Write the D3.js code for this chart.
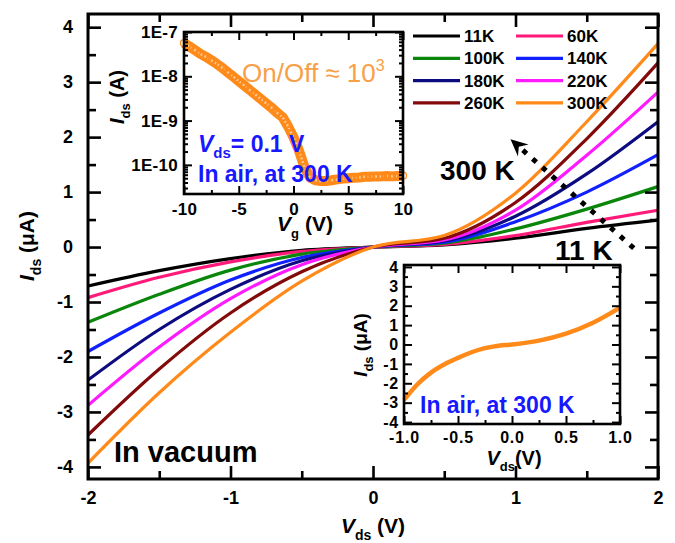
<!DOCTYPE html>
<html>
<head>
<meta charset="utf-8">
<script src="https://cdn.jsdelivr.net/npm/d3@7"></script>
<style>
  body { margin: 0; background: #fff; }
  svg { font-family: "Liberation Sans", Arial, sans-serif; font-weight: bold; }
</style>
</head>
<body>
<div id="chart"></div>
<script>
// ---- data ----
const temps = ["11K", "60K", "100K", "140K", "180K", "220K", "260K", "300K"];
const colors = ["#000000", "#ff1a7a", "#0a860a", "#1020ff", "#0c0c80", "#ff1aff", "#820a0a", "#ff8a1a"];
const vds = [-2, -1.5, -1, -0.5, 0, 0.5, 1, 1.5, 2];
const i11K  = [-0.71, -0.43, -0.21, -0.06, 0, 0.04, 0.16, 0.34, 0.49];
const i60K  = [-0.92, -0.55, -0.27, -0.08, 0, 0.05, 0.21, 0.45, 0.67];
const i100K = [-1.37, -0.86, -0.42, -0.13, 0, 0.07, 0.33, 0.69, 1.10];
const i140K = [-1.90, -1.20, -0.60, -0.19, 0, 0.09, 0.46, 1.00, 1.68];
const i180K = [-2.42, -1.50, -0.77, -0.25, 0, 0.11, 0.56, 1.33, 2.28];
const i220K = [-2.88, -1.82, -0.94, -0.32, 0, 0.13, 0.67, 1.67, 2.82];
const i260K = [-3.42, -2.22, -1.20, -0.45, 0, 0.16, 0.81, 1.97, 3.35];
const i300K = [-3.93, -2.65, -1.55, -0.62, 0, 0.21, 0.98, 2.28, 3.70];
const series = [i11K, i60K, i100K, i140K, i180K, i220K, i260K, i300K];

// inset 1: transfer curve, Vds = 0.1 V
const vg = [-10, -9.5, -9, -8.5, -8, -7.5, -7, -6.5, -6, -5.5, -5, -4.5, -4, -3.5, -3, -2.5, -2, -1.5, -1, -0.5,
            0, 0.5, 1, 1.5, 2, 2.5, 3, 3.5, 4, 4.5, 5, 5.5, 6, 6.5, 7, 7.5, 8, 8.5, 9, 9.5, 10];
const idsAir = [5.6e-8, 4.7e-8, 3.9e-8, 3.2e-8, 2.75e-8, 2.3e-8, 1.9e-8, 1.55e-8, 1.23e-8, 9.8e-9,
                7.8e-9, 6.2e-9, 4.9e-9, 3.9e-9, 3.1e-9, 2.45e-9, 1.95e-9, 1.5e-9, 1.2e-9, 7.4e-10,
                4.2e-10, 2.1e-10, 8.9e-11, 5.2e-11, 4.5e-11, 4.3e-11, 4.3e-11, 4.5e-11, 4.7e-11, 4.9e-11,
                5.0e-11, 5.1e-11, 5.2e-11, 5.4e-11, 5.4e-11, 5.5e-11, 5.5e-11, 5.6e-11, 5.5e-11, 5.6e-11, 5.7e-11];
const logTicks = [1e-7, 1e-8, 1e-9, 1e-10];

// inset 2: I-V in air at 300 K
const vdsAir = [-1, -0.875, -0.75, -0.625, -0.5, -0.375, -0.25, -0.125, 0, 0.25, 0.5, 0.75, 1];
const iAir = [-2.86, -2.05, -1.45, -1.02, -0.69, -0.40, -0.19, -0.06, 0, 0.2, 0.56, 1.12, 1.9];

const svg = d3.select("#chart").append("svg")
    .attr("width", 675)
    .attr("height", 543);

// helper: boxed plot with inward ticks on all four sides
function frame(g, x, y, opt) {
    const [x0, x1] = x.range(), [y0, y1] = y.range();
    const sides = [
        ["b", d3.axisBottom, `translate(0,${y0})`, x, opt.xMajor, opt.xMinor, true],
        ["t", d3.axisTop, `translate(0,${y1})`, x, opt.xMajor, opt.xMinor, false],
        ["l", d3.axisLeft, `translate(${x0},0)`, y, opt.yMajor, opt.yMinor, true],
        ["r", d3.axisRight, `translate(${x1},0)`, y, opt.yMajor, opt.yMinor, false]
    ];
    sides.forEach(([s, ax, tr, sc, major, minor, lab]) => {
        const isX = (s == "b" || s == "t");
        const a = g.append("g").attr("transform", tr)
            .call(ax(sc).tickValues(major).tickSize(-opt.major)
                .tickPadding(isX ? opt.xPad : opt.yPad)
                .tickFormat(lab ? (isX ? opt.xFmt : opt.yFmt) : ""));
        a.select(".domain").remove();
        a.attr("font-size", null).attr("font-family", null);
        a.selectAll("line").attr("stroke", "#000").attr("stroke-width", opt.tickW);
        a.selectAll("text").style("font-size", opt.fs).attr("fill", "#000")
            .style("letter-spacing", opt.ls || "0px")
            .style("font-family", "'Liberation Sans', Arial, sans-serif").style("font-weight", "bold");
        const m = g.append("g").attr("transform", tr)
            .call(ax(sc).tickValues(minor).tickSize(-opt.minor).tickFormat(""));
        m.select(".domain").remove();
        m.selectAll("line").attr("stroke", "#000").attr("stroke-width", opt.tickW);
    });
    g.append("rect")
        .attr("x", x0).attr("y", y1)
        .attr("width", x1 - x0).attr("height", y0 - y1)
        .attr("fill", "none").attr("stroke", "#000").attr("stroke-width", opt.frameW);
}

function subLabel(g, main, sub, rest, fs, subFs) {
    g.append("tspan").attr("font-style", "italic").text(main);
    g.append("tspan").attr("font-size", subFs).attr("dy", fs * 0.32).text(sub);
    g.append("tspan").attr("dy", -fs * 0.32).text(rest);
}

const intFmt = d => String(d);
const oneFmt = d => d.toFixed(1);

// ---- main plot ----
const x = d3.scaleLinear().domain([-2, 2]).range([88, 658]);
const y = d3.scaleLinear().domain([-4.22, 4.24]).range([479, 14]);

const main = svg.append("g");

const line = d3.line()
    .x((d, i) => x(vds[i]))
    .y(d => y(d))
    .curve(d3.curveMonotoneX);

main.selectAll(".iv")
    .data(series)
    .join("path")
    .attr("class", "iv")
    .attr("fill", "none")
    .attr("stroke", (d, i) => colors[i])
    .attr("stroke-width", 3.2)
    .attr("d", line);

frame(main, x, y, {
    xMajor: [-2, -1, 0, 1, 2], xMinor: [-1.5, -0.5, 0.5, 1.5],
    yMajor: [-4, -3, -2, -1, 0, 1, 2, 3, 4], yMinor: [-3.5, -2.5, -1.5, -0.5, 0.5, 1.5, 2.5, 3.5],
    major: 13, minor: 8, xPad: 12, yPad: 15, fs: "18px", tickW: 2.6, frameW: 3,
    xFmt: intFmt, yFmt: intFmt
});

main.append("text")
    .attr("x", 373).attr("y", 533)
    .attr("text-anchor", "middle")
    .attr("font-size", 21)
    .call(t => subLabel(t, "V", "ds", " (V)", 21, "14px"));

main.append("text")
    .attr("transform", "translate(34,246) rotate(-90)")
    .attr("text-anchor", "middle")
    .attr("font-size", 21)
    .call(t => subLabel(t, "I", "ds", " (\u03bcA)", 21, "14px"));

main.append("text").attr("x", 114).attr("y", 462).attr("font-size", 29).text("In vacuum");
main.append("text").attr("x", 440).attr("y", 180).attr("font-size", 28).text("300 K");
main.append("text").attr("x", 555).attr("y", 260).attr("font-size", 28).text("11 K");

// dotted arrow 11 K -> 300 K
const tail = [x(1.83), y(-0.02)], tip = [x(0.965), y(1.96)];
const dx = tip[0] - tail[0], dy = tip[1] - tail[1], len = Math.hypot(dx, dy);
const ux = dx / len, uy = dy / len, nx = -uy, ny = ux;
const hl = 17, hw = 8;
main.append("line")
    .attr("x1", tail[0]).attr("y1", tail[1])
    .attr("x2", tip[0] - ux * (hl - 4)).attr("y2", tip[1] - uy * (hl - 4))
    .attr("stroke", "#000")
    .attr("stroke-width", 5)
    .attr("stroke-dasharray", "5,8");
main.append("polygon")
    .attr("points", [
        tip,
        [tip[0] - ux * hl + nx * hw, tip[1] - uy * hl + ny * hw],
        [tip[0] - ux * hl * 0.65, tip[1] - uy * hl * 0.65],
        [tip[0] - ux * hl - nx * hw, tip[1] - uy * hl - ny * hw]
    ].map(p => p.join(",")).join(" "))
    .attr("fill", "#000");

// legend
const leg = main.append("g");
temps.forEach((t, i) => {
    const cx = i % 2 == 0 ? 413 : 516;
    const cy = 36 + Math.floor(i / 2) * 22.3;
    leg.append("line")
        .attr("x1", cx).attr("x2", cx + 47)
        .attr("y1", cy).attr("y2", cy)
        .attr("stroke", colors[i]).attr("stroke-width", 3.2);
    leg.append("text")
        .attr("x", cx + 51).attr("y", cy + 6)
        .attr("font-size", 17)
        .text(t);
});

// ---- inset 1: transfer curve ----
const x1 = d3.scaleLinear().domain([-10, 10]).range([184, 403]);
const y1 = d3.scaleLog().domain([2.2e-11, 1e-7]).range([194, 32]);
const ins1 = svg.append("g");
ins1.append("rect").attr("x", 184).attr("y", 32).attr("width", 219).attr("height", 162).attr("fill", "#fff");

const logMinor = [];
[-11, -10, -9, -8].forEach(e => {
    for (let k = 2; k <= 9; k++) {
        const v = k * Math.pow(10, e);
        if (v > 2.2e-11 && v < 1e-7) logMinor.push(v);
    }
});

const tline = d3.line()
    .x((d, i) => x1(vg[i]))
    .y(d => y1(d));
ins1.append("path")
    .attr("d", tline(idsAir))
    .attr("fill", "none")
    .attr("stroke", "#ff8a1a")
    .attr("stroke-width", 10)
    .attr("stroke-linejoin", "round");
ins1.append("path")
    .attr("d", tline(idsAir))
    .attr("fill", "none")
    .attr("stroke", "#fcc98e")
    .attr("stroke-width", 2.5)
    .attr("stroke-dasharray", "2,2");
ins1.selectAll(".pt")
    .data(idsAir)
    .join("circle")
    .attr("cx", (d, i) => x1(vg[i]))
    .attr("cy", d => y1(d))
    .attr("r", 3.5)
    .attr("fill", "none")
    .attr("stroke", "#ff8a1a")
    .attr("stroke-width", 1.2);

frame(ins1, x1, y1, {
    xMajor: [-10, -5, 0, 5, 10], xMinor: [-7.5, -2.5, 2.5, 7.5],
    yMajor: logTicks, yMinor: logMinor,
    major: 8, minor: 4, xPad: 9, yPad: 6, fs: "17px", tickW: 2, frameW: 2.6, ls: "0.3px",
    xFmt: intFmt, yFmt: d => "1E" + Math.round(Math.log10(d))
});

ins1.append("text")
    .attr("x", 305).attr("y", 231)
    .attr("text-anchor", "middle")
    .attr("font-size", 21)
    .call(t => subLabel(t, "V", "g", " (V)", 21, "13px"));
ins1.append("text")
    .attr("transform", "translate(124,97) rotate(-90)")
    .attr("text-anchor", "middle")
    .attr("font-size", 20)
    .call(t => subLabel(t, "I", "ds", " (A)", 20, "13px"));

const onoff = ins1.append("text")
    .attr("x", 242).attr("y", 82)
    .attr("font-size", 26)
    .attr("font-weight", "normal")
    .attr("fill", "#f8a048");
onoff.append("tspan").text("On/Off \u2248 10");
onoff.append("tspan").attr("font-size", 16).attr("dy", -11).text("3");

const vtxt = ins1.append("text")
    .attr("x", 198).attr("y", 152)
    .attr("font-size", 23)
    .attr("fill", "#1818ff");
vtxt.append("tspan").attr("font-style", "italic").text("V");
vtxt.append("tspan").attr("font-size", 15).attr("dy", 6).text("ds");
vtxt.append("tspan").attr("dy", -6).text("= 0.1 V");
ins1.append("text")
    .attr("x", 198).attr("y", 182)
    .attr("font-size", 23)
    .attr("fill", "#1818ff")
    .text("In air, at 300 K");

// ---- inset 2: I-V in air ----
const x2 = d3.scaleLinear().domain([-1, 1]).range([404, 620]);
const y2 = d3.scaleLinear().domain([-4.1, 4.1]).range([424, 265]);
const ins2 = svg.append("g");
ins2.append("rect").attr("x", 404).attr("y", 265).attr("width", 216).attr("height", 159).attr("fill", "#fff");

ins2.append("path")
    .attr("d", d3.line()
        .x((d, i) => x2(vdsAir[i]))
        .y(d => y2(d))
        .curve(d3.curveMonotoneX)(iAir))
    .attr("fill", "none")
    .attr("stroke", "#ff8a1a")
    .attr("stroke-width", 4.5);

frame(ins2, x2, y2, {
    xMajor: [-1, -0.5, 0, 0.5, 1], xMinor: [-0.75, -0.25, 0.25, 0.75],
    yMajor: [-4, -3, -2, -1, 0, 1, 2, 3, 4], yMinor: [-3.5, -2.5, -1.5, -0.5, 0.5, 1.5, 2.5, 3.5],
    major: 8, minor: 4, xPad: 8, yPad: 5, fs: "16px", tickW: 2, frameW: 2.6, ls: "0.8px",
    xFmt: oneFmt, yFmt: intFmt
});

ins2.append("text")
    .attr("x", 514).attr("y", 465)
    .attr("text-anchor", "middle")
    .attr("font-size", 20)
    .call(t => subLabel(t, "V", "ds", "(V)", 20, "13px"));
ins2.append("text")
    .attr("transform", "translate(367,345) rotate(-90)")
    .attr("text-anchor", "middle")
    .attr("font-size", 19)
    .call(t => subLabel(t, "I", "ds", " (\u03bcA)", 19, "13px"));
ins2.append("text")
    .attr("x", 420).attr("y", 413)
    .attr("font-size", 23)
    .attr("fill", "#1818ff")
    .text("In air, at 300 K");
</script>
</body>
</html>
